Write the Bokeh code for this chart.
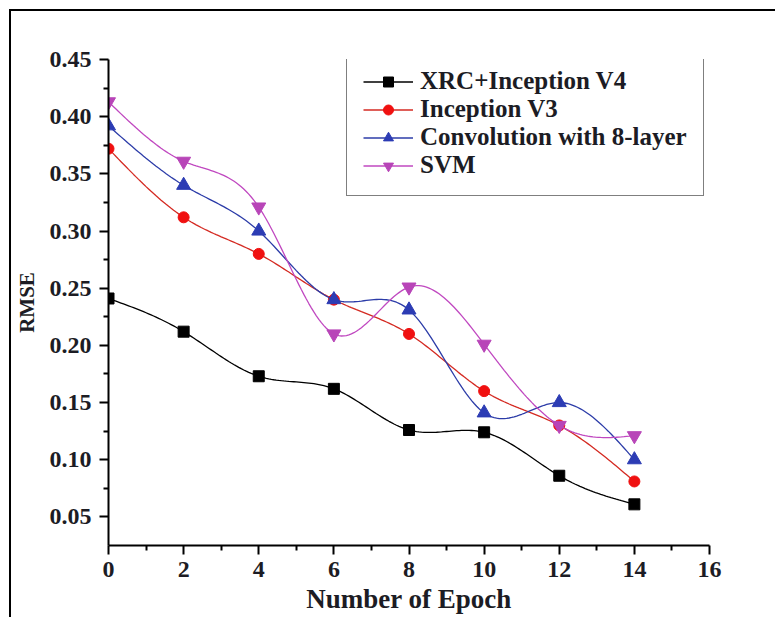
import numpy as np
from bokeh.plotting import figure
from bokeh.models import FixedTicker, NumeralTickFormatter, Legend, LegendItem
from bokeh.embed import file_html
from bokeh.resources import INLINE

# RMSE per training epoch for each model
epochs = [0, 2, 4, 6, 8, 10, 12, 14]
xrc_inception_v4 = [0.241, 0.212, 0.173, 0.162, 0.126, 0.124, 0.086, 0.061]
inception_v3 = [0.372, 0.312, 0.280, 0.240, 0.210, 0.160, 0.130, 0.081]
conv_8_layer = [0.392, 0.340, 0.300, 0.240, 0.231, 0.141, 0.150, 0.100]
svm = [0.413, 0.361, 0.321, 0.210, 0.251, 0.201, 0.130, 0.121]

series_names = ["XRC+Inception V4", "Inception V3", "Convolution with 8-layer", "SVM"]
x_ticks = [0, 2, 4, 6, 8, 10, 12, 14, 16]
y_ticks = [0.05, 0.10, 0.15, 0.20, 0.25, 0.30, 0.35, 0.40, 0.45]


def natural_spline(x, y, per_seg=30):
    """Smooth connecting curve (natural cubic spline) through the data points."""
    x = np.asarray(x, float)
    y = np.asarray(y, float)
    n = len(x)
    h = np.diff(x)
    A = np.zeros((n, n))
    b = np.zeros(n)
    A[0, 0] = A[-1, -1] = 1.0
    for i in range(1, n - 1):
        A[i, i - 1] = h[i - 1]
        A[i, i] = 2 * (h[i - 1] + h[i])
        A[i, i + 1] = h[i]
        b[i] = 6 * ((y[i + 1] - y[i]) / h[i] - (y[i] - y[i - 1]) / h[i - 1])
    M = np.linalg.solve(A, b)
    xs, ys = [], []
    for i in range(n - 1):
        t = np.linspace(x[i], x[i + 1], per_seg, endpoint=(i == n - 2))
        a = x[i + 1] - t
        c = t - x[i]
        s = (M[i] * a ** 3 + M[i + 1] * c ** 3) / (6 * h[i]) \
            + (y[i] / h[i] - M[i] * h[i] / 6) * a \
            + (y[i + 1] / h[i] - M[i + 1] * h[i] / 6) * c
        xs.extend(t)
        ys.extend(s)
    return xs, ys


SERIF = "Liberation Serif"
INK = "#1c1c24"
OFF = 11  # panel frame offset (9px margin + 2px border)

p = figure(width=777 - OFF, height=619 - OFF, output_backend="svg",
           toolbar_location=None,
           x_range=(0, 16), y_range=(0.025, 0.45),
           min_border_left=108 - OFF, min_border_right=68,
           min_border_top=59 - OFF, min_border_bottom=74)
p.styles = {"margin-left": "9px", "margin-top": "9px",
            "border-left": "2px solid black", "border-top": "2px solid black"}
p.outline_line_color = None
p.grid.visible = False
p.background_fill_color = "white"
p.border_fill_color = "white"

# axes
p.xaxis.ticker = FixedTicker(ticks=x_ticks, minor_ticks=list(range(1, 16, 2)))
p.yaxis.ticker = FixedTicker(ticks=y_ticks,
                             minor_ticks=[0.075 + 0.05 * k for k in range(8)])
p.yaxis.formatter = NumeralTickFormatter(format="0.00")
for ax in (p.xaxis, p.yaxis):
    ax.axis_line_width = 2
    ax.axis_line_color = "black"
    ax.major_tick_line_width = 2
    ax.minor_tick_line_width = 2
    ax.major_tick_line_color = "black"
    ax.minor_tick_line_color = "black"
    ax.major_tick_out = 9
    ax.major_tick_in = 0
    ax.minor_tick_out = 5
    ax.minor_tick_in = 0
    ax.major_label_text_font = SERIF
    ax.major_label_text_font_style = "bold"
    ax.major_label_text_font_size = "24px"
    ax.major_label_text_color = INK
    ax.axis_label_text_font = SERIF
    ax.axis_label_text_font_style = "bold"
    ax.axis_label_text_color = INK

p.xaxis.axis_label = "Number of Epoch"
p.xaxis.axis_label_text_font_size = "27px"
p.xaxis.major_label_standoff = 7
p.xaxis.axis_label_standoff = 4
p.yaxis.axis_label = "RMSE"
p.yaxis.axis_label_text_font_size = "21px"
p.yaxis.major_label_standoff = 8
p.yaxis.axis_label_standoff = 8

styles = [
    (xrc_inception_v4, "black", "black", "square", 11),
    (inception_v3, "#d42a22", "#f01010", "circle", 11),
    (conv_8_layer, "#2c3ca8", "#2c3cb4", "triangle", 14),
    (svm, "#c048c0", "#b845b8", "inverted_triangle", 14),
]

items = []
for name, (vals, lc, mc, marker, size) in zip(series_names, styles):
    sx, sy = natural_spline(epochs, vals)
    ln = p.line(sx, sy, line_color=lc, line_width=1.3)
    mk = p.scatter(epochs, vals, marker=marker, size=size,
                   fill_color=mc, line_color=mc)
    items.append(LegendItem(label=name, renderers=[ln, mk]))

legend = Legend(items=items, location=(238, 349),
                label_text_font=SERIF, label_text_font_style="bold",
                label_text_font_size="25px", label_text_color=INK,
                glyph_width=50, glyph_height=25, label_height=25,
                label_standoff=7, spacing=0, padding=16, margin=0,
                border_line_color="black", border_line_width=1.5,
                background_fill_color="white", background_fill_alpha=1.0)
p.add_layout(legend, "center")

open("out.html", "w").write(file_html(p, INLINE))
